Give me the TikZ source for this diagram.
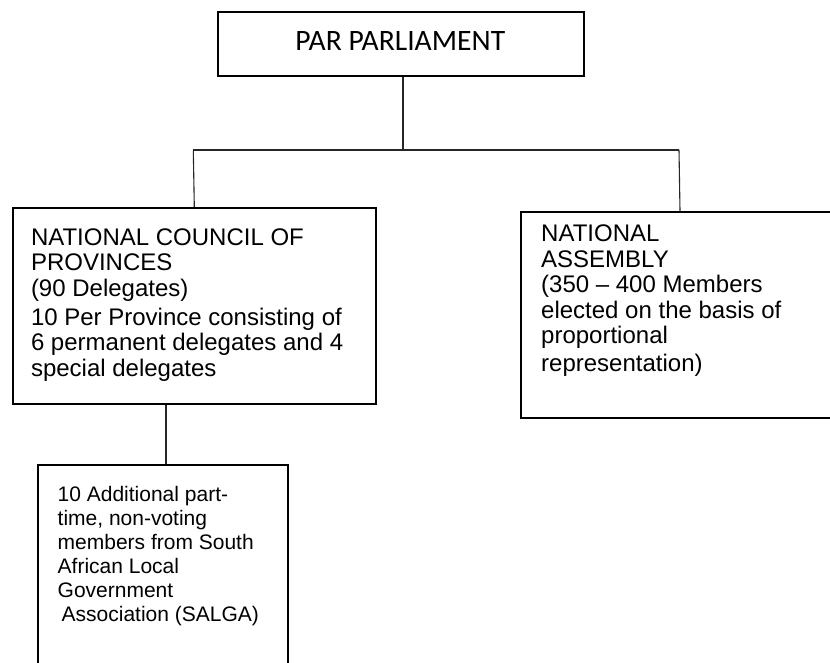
\documentclass[tikz,border=0pt]{standalone}
\usepackage{fontspec}
\setmainfont{Liberation Sans}
\newfontfamily\titlefont{Carlito}
\begin{document}
\begin{tikzpicture}[x=1pt,y=-1pt,
  box/.style={draw=black, line width=2pt, rectangle, inner sep=0pt, anchor=north west},
  link/.style={draw=black!85, line width=1.1pt},
  body/.style={anchor=north west, inner sep=0pt, align=left, text=black,
    font=\fontsize{24}{25.6}\selectfont},
]
\useasboundingbox (0,0) rectangle (830,662);
\clip (0,0) rectangle (830,662);
\fill[white] (0,0) rectangle (830,662);

% boxes
\node[box, minimum width=366pt, minimum height=64.4pt] (par) at (217,10.6) {};
\node[box, minimum width=363.4pt, minimum height=196pt] (ncop) at (11.6,207) {};
\node[box, minimum width=318pt, minimum height=206pt] (na) at (520,211) {};
\node[box, minimum width=250pt, minimum height=220pt] (salga) at (37,464) {};

% texts
\node[anchor=base, inner sep=0pt, font=\titlefont\fontsize{29.6}{31}\selectfont]
  (partitle) at (400.3,50) {PAR PARLIAMENT};
\node[body] (ncoptext) at (30.8,228.2)
  {NATIONAL COUNCIL OF\\PROVINCES\\(90 Delegates)\\[3.4pt]10 Per Province consisting of\\6 permanent delegates and 4\\special delegates};
\node[body, font=\fontsize{24}{25.5}\selectfont] (natext) at (541,224.8)
  {NATIONAL\\ASSEMBLY\\(350 – 400 Members\\elected on the basis of\\proportional\\[2.2pt]representation)};
\node[body, font=\fontsize{21}{24}\selectfont] (salgatext) at (57.5,486.4)
  {10 Additional part-\\time, non-voting\\members from South\\African Local\\Government\\\hspace*{4pt}Association (SALGA)};

% connectors
\coordinate (busL) at (193.3,150);
\coordinate (busR) at (679,150);
\coordinate (drop) at (166,0);
\draw[link] ([xshift=2pt]par.south) -- ([xshift=2pt]par.south |- busL);
\draw[link] (busL) -- (busR);
\draw[link] (busL) -- (ncop.north);
\draw[link] (busR) -- (na.north);
\draw[link] (ncop.south -| drop) -- (salga.north -| drop);
\end{tikzpicture}
\end{document}
